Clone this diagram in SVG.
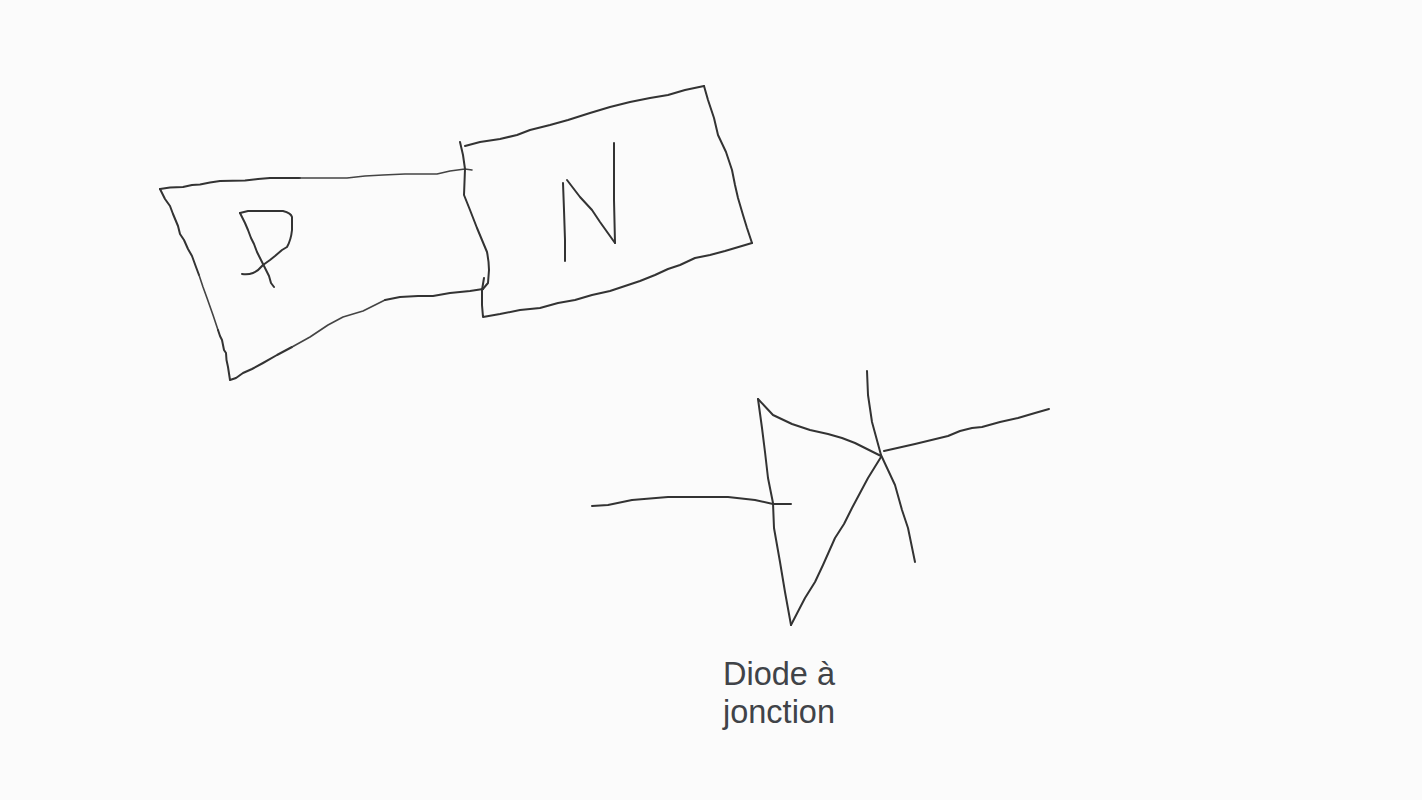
<svg xmlns="http://www.w3.org/2000/svg" width="1422" height="800" viewBox="0 0 1422 800">
<style>
.s{fill:none;stroke:#333;stroke-width:2;stroke-linecap:round;stroke-linejoin:round}
.t{stroke-width:1.6;stroke:#444}
.l{font-family:"Liberation Sans",Arial,sans-serif;font-size:32.5px;fill:#404348}
</style>
<rect width="1422" height="800" fill="#fbfbfb"/>
<g id="p-block">
<path class="s" d="M160 189L170 187.500L183 187L192 185L200 184.500L210 182.500L220 181L245 180.500L258 179L270 178L300 178"/>
<path class="s t" d="M300 178L347 178L365 176L383 175L405 174L437 174L450 171L465 169L472 170"/>
<path class="s" d="M160 189L165 199L170 206L173 214L178 226L180 234L184 240L188 249L192 256L196 267L199 275"/>
<path class="s t" d="M199 275L203 287L207 298L213 315L218 330"/>
<path class="s" d="M218 330L220 336L222 340L224 350L226 353L226.500 360L228 367L230 380L236 378L243 373L252 369L263 363L277 355L292 347"/>
<path class="s t" d="M292 347L310 337L328 325L343 317L363 311L375 305L385 300"/>
<path class="s" d="M385 300L400 297L418 296L433 296L450 293L470 291L483 289"/>
<path class="s" d="M240 213L248 211L283 211Q291 213 292 217L292 230Q291 240 287 247L282 250L275 256L270 260L263 265Q258 271 253 273Q248 275 242 274"/>
<path class="s" d="M240 213L245 223L248 230L251 238L254 244L257 252L261 260L265 268L269 276L271 283L274 287"/>
</g>
<g id="n-block">
<path class="s" d="M460 142L463 155L465 169L464 195L470 210L477 228L482 240L487 252Q489 262 489 270L488 283L482 290"/>
<path class="s" d="M484 278L482 290L482 305L483 317L500 314L520 310L540 308L558 303L575 300L592 295L610 291L625 286L640 281L655 275L668 269L680 265L695 258L710 255L725 251L752 243"/>
<path class="s" d="M465 146L480 142L500 139L517 135L530 130L550 125L568 120L590 113L610 107L630 102L650 98L668 95L685 90L704 86"/>
<path class="s" d="M704 86L708 100L714 118L718 135L726 152L732 170L735 185L738 198L743 215L747 228L752 243"/>
<path class="s" d="M563 183L564 210L565 240L565 261"/>
<path class="s" d="M567 180L580 197L592 210L600 222L615 243"/>
<path class="s" d="M614 143L614 170L614 200L615 243"/>
</g>
<g id="diode">
<path class="s" d="M758 399L762 428L765 452L768 478L773 503L774 528L780 562L785 592L791 625"/>
<path class="s" d="M758 399L773 415L792 424L810 430L828 434L842 438L855 443L881 456"/>
<path class="s" d="M791 625L805 598L815 582L823 565L835 538L844 524L852 508L868 478L881 457"/>
<path class="s" d="M867 371L868 395L872 422L881 455L888 470L895 485L902 510L908 528L915 562"/>
<path class="s" d="M884 451L915 444L948 436L960 431L972 428L982 427L1000 422L1018 418L1035 413L1049 409"/>
<path class="s" d="M592 506L608 505L632 500L668 497L728 497L755 500L773 504L791 504"/>
</g>
<g id="label">
<text class="l" x="723" y="685">Diode à</text>
<text class="l" x="723" y="723">jonction</text>
</g>
</svg>
